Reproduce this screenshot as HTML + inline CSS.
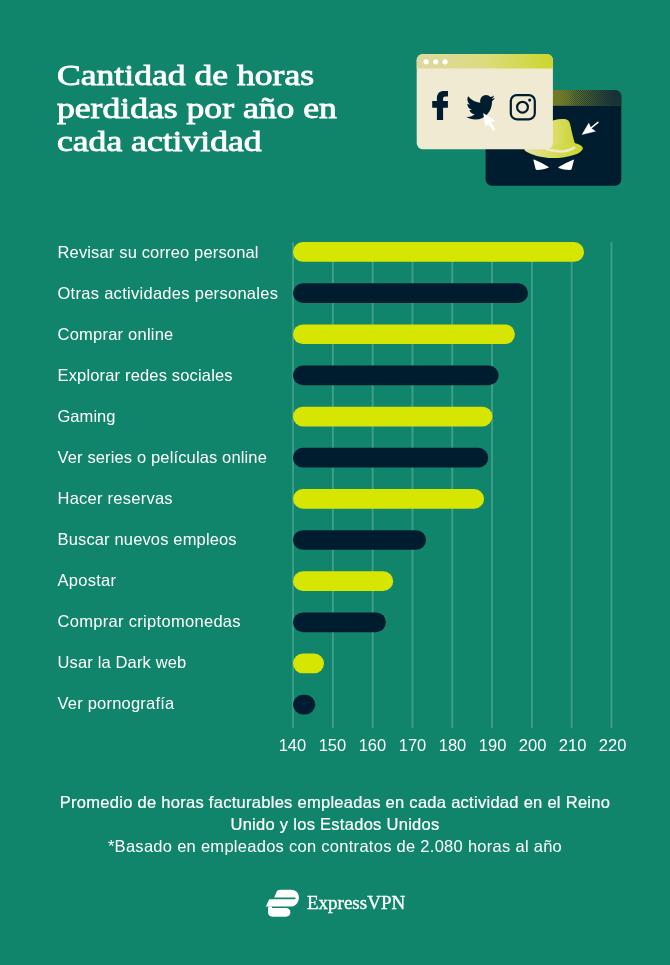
<!DOCTYPE html>
<html lang="es">
<head>
<meta charset="utf-8">
<title>Cantidad de horas perdidas por año en cada actividad</title>
<style>
  html, body { margin: 0; padding: 0; }
  body { width: 670px; height: 965px; background: #11856B; overflow: hidden; position: relative;
         font-family: "Liberation Sans", sans-serif; color: #fff; }
  svg { position: absolute; left: 0; top: 0; }
  .title { position: absolute; left: 57px; top: 59px; margin: 0; font-family: "Liberation Serif", serif;
           font-weight: normal; -webkit-text-stroke: 0.85px #fff; font-size: 29.5px; line-height: 32.8px; color: #fff; white-space: nowrap;
           transform: scaleX(1.207); transform-origin: 0 0; }
  .lbl { position: absolute; left: 57.5px; letter-spacing: 0.22px; font-size: 16.5px; line-height: 20px; white-space: nowrap; color: #fff; }
  .ax { position: absolute; top: 734.6px; width: 40px; margin-left: -20.5px; text-align: center; font-size: 16.5px; line-height: 20px; color: #fff; }
  .foot { position: absolute; left: 0; width: 670px; text-align: center; letter-spacing: 0.28px; font-size: 16.5px; line-height: 22px; white-space: nowrap; color: #fff; }
  .med { -webkit-text-stroke: 0.22px #fff; }
  .brand { position: absolute; left: 307px; top: 891px; font-family: "Liberation Serif", serif; font-size: 19px; line-height: 24px; color: #fff; white-space: nowrap; -webkit-text-stroke: 0.35px #fff; }
</style>
</head>
<body>

<svg width="670" height="965" viewBox="0 0 670 965">
  <defs>
    <linearGradient id="gh1" x1="0" y1="0" x2="1" y2="0">
      <stop offset="0" stop-color="#DDD9A2"/>
      <stop offset="0.5" stop-color="#DDDB7E"/>
      <stop offset="1" stop-color="#CDD62B"/>
    </linearGradient>
    <linearGradient id="gh2" x1="0" y1="0" x2="1" y2="0">
      <stop offset="0.5" stop-color="#6F7A2A"/>
      <stop offset="1" stop-color="#66762D"/>
    </linearGradient>
    <linearGradient id="ghat" x1="0" y1="0" x2="1" y2="0">
      <stop offset="0.3" stop-color="#DBDD66"/>
      <stop offset="1" stop-color="#C9D330"/>
    </linearGradient>
    <linearGradient id="gbrim" x1="0" y1="0" x2="1" y2="0">
      <stop offset="0" stop-color="#E6E3A6"/>
      <stop offset="0.45" stop-color="#D9DC62"/>
      <stop offset="1" stop-color="#CBD52A"/>
    </linearGradient>
    <pattern id="dots" width="2" height="2" patternUnits="userSpaceOnUse">
      <rect x="0" y="0" width="1" height="1" fill="#0C2832"/>
      <rect x="1" y="1" width="1" height="1" fill="#0C2832"/>
    </pattern>
    <linearGradient id="gmask" gradientUnits="userSpaceOnUse" x1="560" y1="0" x2="622" y2="0">
      <stop offset="0" stop-color="#fff" stop-opacity="0"/>
      <stop offset="0.25" stop-color="#fff" stop-opacity="0.45"/>
      <stop offset="0.55" stop-color="#fff" stop-opacity="0.6"/>
      <stop offset="1" stop-color="#fff" stop-opacity="0.9"/>
    </linearGradient>
    <mask id="mdots" maskUnits="userSpaceOnUse" x="485" y="89" width="138" height="18"><rect x="485" y="89" width="138" height="18" fill="url(#gmask)"/></mask>
    <linearGradient id="gdk" gradientUnits="userSpaceOnUse" x1="568" y1="0" x2="614" y2="0">
      <stop offset="0" stop-color="#123038" stop-opacity="0"/>
      <stop offset="1" stop-color="#123038" stop-opacity="0.92"/>
    </linearGradient>
    <clipPath id="cw1"><rect x="416.7" y="53.9" width="136.2" height="95.4" rx="6.3"/></clipPath>
    <clipPath id="cw2"><rect x="485.6" y="90" width="135.7" height="95.7" rx="6.3"/></clipPath>
  </defs>

  <!-- grid lines -->
  <g stroke="#ffffff" stroke-opacity="0.21" stroke-width="1.8">
    <line x1="293.05" y1="242.3" x2="293.05" y2="728"/>
    <line x1="332.85" y1="242.3" x2="332.85" y2="728"/>
    <line x1="372.65" y1="242.3" x2="372.65" y2="728"/>
    <line x1="412.45" y1="242.3" x2="412.45" y2="728"/>
    <line x1="452.25" y1="242.3" x2="452.25" y2="728"/>
    <line x1="492.05" y1="242.3" x2="492.05" y2="728"/>
    <line x1="531.85" y1="242.3" x2="531.85" y2="728"/>
    <line x1="571.65" y1="242.3" x2="571.65" y2="728"/>
    <line x1="611.45" y1="242.3" x2="611.45" y2="728"/>
  </g>

  <!-- bars -->
  <g>
    <rect x="293" y="242.1" width="291.0" height="19.7" rx="9.85" fill="#D7E600"/>
    <rect x="293" y="283.25" width="235.0" height="19.7" rx="9.85" fill="#001D2F"/>
    <rect x="293" y="324.4" width="221.9" height="19.7" rx="9.85" fill="#D7E600"/>
    <rect x="293" y="365.55" width="205.6" height="19.7" rx="9.85" fill="#001D2F"/>
    <rect x="293" y="406.7" width="199.4" height="19.7" rx="9.85" fill="#D7E600"/>
    <rect x="293" y="447.85" width="195.2" height="19.7" rx="9.85" fill="#001D2F"/>
    <rect x="293" y="489.0" width="191.1" height="19.7" rx="9.85" fill="#D7E600"/>
    <rect x="293" y="530.15" width="133.0" height="19.7" rx="9.85" fill="#001D2F"/>
    <rect x="293" y="571.3" width="100.2" height="19.7" rx="9.85" fill="#D7E600"/>
    <rect x="293" y="612.45" width="92.9" height="19.7" rx="9.85" fill="#001D2F"/>
    <rect x="293" y="653.6" width="31.0" height="19.7" rx="9.85" fill="#D7E600"/>
    <rect x="293" y="694.75" width="22.2" height="19.7" rx="9.85" fill="#001D2F"/>
  </g>

  <!-- illustration: dark window (behind) -->
  <g clip-path="url(#cw2)">
    <rect x="485" y="89" width="138" height="98" fill="#001D2F"/>
    <rect x="485" y="89" width="138" height="16.8" fill="url(#gh2)"/>
    <rect x="485" y="89" width="138" height="16.8" fill="url(#dots)" mask="url(#mdots)"/>
    <rect x="485" y="89" width="138" height="16.8" fill="url(#gdk)"/>
  </g>
  <!-- hat -->
  <g>
    <path d="M548 150 L548 123 C552 120.6 557 119.1 562 119.1 C565 119.1 567.4 119.5 568.5 120.8 C569.7 122.2 570.3 124.8 570.7 126.8 L572.8 135.9 L574.8 142.9 L575.6 147 C568 151 556 152 547.9 150.5 Z" fill="url(#ghat)"/>
    <path d="M524.4 149.2 C524.4 147 526 145.5 529 145 L574.8 142.9 C579 144 582.6 146 582.8 147.9 C583 150 580 152.6 576 154.3 C568 157.4 559 158.2 552 158.1 C543 158 534 155.4 529 153 C526 151.6 524.4 150.6 524.4 149.2 Z" fill="url(#gbrim)"/>
    <path d="M546 149.3 C551 150.6 556 151.3 561.8 151.4 C566 151.4 571.5 149.6 575 147.1" fill="none" stroke="#EEEAC6" stroke-width="2.5"/>
  </g>
  <!-- eyes -->
  <path d="M534.1 159.5 Q533.3 159.1 533.4 160 L535.5 168.7 Q535.9 169.9 537.4 169.9 C541 169.9 545.8 168.9 548.3 167.7 Q549.2 167.2 548.3 166.7 Q541.5 162.6 534.1 159.5 Z" fill="#ffffff"/>
  <path d="M573.2 159.7 Q574 159.3 573.9 160.2 L571.7 168.7 Q571.3 169.9 569.8 169.9 C566.2 169.9 561.3 169 558.7 167.9 Q557.8 167.4 558.7 166.9 Q565.6 162.8 573.2 159.7 Z" fill="#ffffff"/>
  <!-- arrow -->
  <path d="M597.9 122.3 L590.4 128.5" stroke="#ffffff" stroke-width="1.5" stroke-linecap="round" fill="none"/>
  <path d="M582.1 134.5 L588.8 123.1 L590.9 128.1 L595.4 131.3 Z" fill="#ffffff" stroke="#ffffff" stroke-width="0.4" stroke-linejoin="round"/>

  <!-- illustration: cream window (front) -->
  <g clip-path="url(#cw1)">
    <rect x="416" y="53" width="138" height="98" fill="#F0EAD2"/>
    <rect x="416" y="53" width="138" height="15.5" fill="url(#gh1)"/>
  </g>
  <circle cx="426.1" cy="61.8" r="2.6" fill="#ffffff"/>
  <circle cx="435.7" cy="61.8" r="2.6" fill="#ffffff"/>
  <circle cx="445.1" cy="61.8" r="2.6" fill="#ffffff"/>

  <!-- facebook f -->
  <path d="M448 91.1 L448 96.6 L445.6 96.6 C443.8 96.6 443.1 97.3 443.1 98.8 L443.1 101.1 L447.9 101.1 L447.9 107.7 L443.1 107.7 L443.1 119.9 L436.9 119.9 L436.9 107.7 L432.2 107.7 L432.2 101.1 L436.9 101.1 L436.9 98.2 C436.9 93.6 439.6 91 444 91 C445.6 91 447.2 91 448 91.1 Z" fill="#001D2F"/>

  <!-- twitter bird -->
  <g transform="translate(466.2,92.3) scale(1.198,1.255)">
    <path d="M23.954 4.569c-.885.389-1.830.654-2.825.775 1.014-.611 1.794-1.574 2.163-2.723-.951.555-2.005.959-3.127 1.184-.896-.959-2.173-1.559-3.591-1.559-2.717 0-4.920 2.203-4.920 4.917 0 .390.045.765.127 1.124C7.691 8.094 4.066 6.130 1.640 3.161c-.427.722-.666 1.561-.666 2.475 0 1.710.870 3.213 2.188 4.096-.807-.026-1.566-.248-2.228-.616v.061c0 2.385 1.693 4.374 3.946 4.827-.413.111-.849.171-1.296.171-.314 0-.615-.030-.916-.086.631 1.953 2.445 3.377 4.604 3.417-1.680 1.319-3.809 2.105-6.102 2.105-.390 0-.779-.023-1.170-.067 2.189 1.394 4.768 2.209 7.557 2.209 9.054 0 13.999-7.496 13.999-13.986 0-.209 0-.42-.015-.63.961-.689 1.800-1.560 2.460-2.548z" fill="#001D2F"/>
  </g>

  <!-- instagram -->
  <rect x="510.8" y="95.1" width="24" height="24.2" rx="6" fill="none" stroke="#001D2F" stroke-width="2.2"/>
  <circle cx="522.5" cy="107.2" r="5.4" fill="none" stroke="#001D2F" stroke-width="2.2"/>
  <circle cx="529.7" cy="100.1" r="1.55" fill="#001D2F"/>

  <!-- cursor -->
  <path d="M483.5 113.4 L485.5 126.6 L488.4 123.9 L493.3 130.4 L495.2 129.1 L490.5 122.4 L494.9 120.8 Z" fill="#ffffff" stroke="#ffffff" stroke-width="0.4" stroke-linejoin="round"/>

  <!-- logo mark -->
  <g fill="#ffffff">
    <path d="M274.2 897.5 L276.4 892.2 C277.1 890.6 278.6 889.8 280.4 889.8 L291 889.8 C295.6 889.8 298.9 892.9 298.9 897.4 C298.9 902.4 295.4 906.6 290.6 906.6 L265.8 906.6 L269.3 899.2 L294.6 899.2 C295.3 899.2 295.6 898.9 295.6 898.4 C295.6 897.9 295.3 897.5 294.6 897.5 Z"/>
    <path d="M268.2 906.4 L272 906.4 L272 908 L286 908 C288.6 908 290.4 909.8 290.4 912.3 C290.4 914.8 288.6 916.7 286 916.7 L272.4 916.7 C269.8 916.7 268 914.8 268 912.3 Z"/>
  </g>
</svg>

<div id="txt" style="position:absolute;left:0;top:0;width:670px;height:965px;will-change:transform;">
<h1 class="title">Cantidad de horas<br>perdidas por año en<br>cada actividad</h1>

<div class="lbl" style="top:242.45px;letter-spacing:0.152px">Revisar su correo personal</div>
<div class="lbl" style="top:283.41px;letter-spacing:0.285px">Otras actividades personales</div>
<div class="lbl" style="top:324.37px;letter-spacing:0.23px">Comprar online</div>
<div class="lbl" style="top:365.33px;letter-spacing:0.164px">Explorar redes sociales</div>
<div class="lbl" style="top:406.29px;letter-spacing:0.04px">Gaming</div>
<div class="lbl" style="top:447.25px;letter-spacing:0.139px">Ver series o películas online</div>
<div class="lbl" style="top:488.21px;letter-spacing:0.246px">Hacer reservas</div>
<div class="lbl" style="top:529.17px;letter-spacing:0.15px">Buscar nuevos empleos</div>
<div class="lbl" style="top:570.13px;letter-spacing:0.28px">Apostar</div>
<div class="lbl" style="top:611.09px;letter-spacing:0.305px">Comprar criptomonedas</div>
<div class="lbl" style="top:652.05px;letter-spacing:0.147px">Usar la Dark web</div>
<div class="lbl" style="top:693.01px;letter-spacing:0.207px">Ver pornografía</div>

<div class="ax" style="left:292.90px">140</div>
<div class="ax" style="left:332.93px">150</div>
<div class="ax" style="left:372.96px">160</div>
<div class="ax" style="left:412.99px">170</div>
<div class="ax" style="left:453.02px">180</div>
<div class="ax" style="left:493.05px">190</div>
<div class="ax" style="left:533.08px">200</div>
<div class="ax" style="left:573.11px">210</div>
<div class="ax" style="left:613.14px">220</div>

<div class="foot med" style="top:791.4px">Promedio de horas facturables empleadas en cada actividad en el Reino</div>
<div class="foot med" style="top:813.3px">Unido y los Estados Unidos</div>
<div class="foot" style="top:835.3px">*Basado en empleados con contratos de 2.080 horas al año</div>

<div class="brand">ExpressVPN</div>
</div>

</body>
</html>
